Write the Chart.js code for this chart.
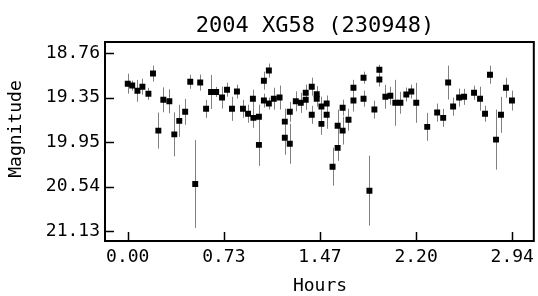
<!DOCTYPE html>
<html>
<head>
<meta charset="utf-8">
<script src="https://cdn.jsdelivr.net/npm/chart.js@4/dist/chart.umd.min.js"></script>
<style>
  body { margin: 0; background: #fff; }
  canvas { display: block; }
</style>
</head>
<body>
<canvas id="lc" width="538" height="296"></canvas>
<script>
// light curve, values
const hours = [0.00, 0.034, 0.074, 0.112, 0.158, 0.193, 0.234, 0.272, 0.318, 0.356,
    0.394, 0.439, 0.478, 0.516, 0.554, 0.599, 0.637, 0.676, 0.721, 0.759,
    0.797, 0.835, 0.881, 0.920, 0.957, 0.961, 1.003, 1.003, 1.041, 1.041,
    1.079, 1.079, 1.117, 1.161, 1.201, 1.201, 1.239, 1.239, 1.285, 1.323,
    1.361, 1.361, 1.407, 1.407, 1.445, 1.445, 1.481, 1.481, 1.521, 1.521,
    1.566, 1.605, 1.605, 1.643, 1.643, 1.688, 1.726, 1.726, 1.803, 1.803,
    1.848, 1.886, 1.924, 1.924, 1.970, 2.008, 2.046, 2.085, 2.130, 2.168,
    2.206, 2.290, 2.366, 2.412, 2.450, 2.488, 2.534, 2.572, 2.648, 2.694,
    2.732, 2.770, 2.816, 2.854, 2.892, 2.938];
const mags = [19.165, 19.19, 19.26, 19.205, 19.30, 19.03, 19.79, 19.38, 19.40, 19.84,
    19.66, 19.54, 19.14, 20.50, 19.15, 19.50, 19.275, 19.275, 19.35, 19.245,
    19.50, 19.27, 19.50, 19.565, 19.365, 19.62, 19.605, 19.98, 19.125, 19.39,
    18.99, 19.43, 19.365, 19.35, 19.67, 19.885, 19.54, 19.965, 19.40, 19.42,
    19.285, 19.38, 19.205, 19.58, 19.305, 19.365, 19.47, 19.70, 19.43, 19.58,
    20.27, 19.725, 20.02, 19.485, 19.79, 19.645, 19.22, 19.39, 19.085, 19.365,
    20.59, 19.51, 18.98, 19.11, 19.34, 19.325, 19.42, 19.42, 19.31, 19.27,
    19.42, 19.74, 19.55, 19.62, 19.15, 19.47, 19.35, 19.34, 19.285, 19.365,
    19.565, 19.045, 19.91, 19.58, 19.22, 19.39];
const errs = [0.133, 0.067, 0.146, 0.107, 0.08, 0.107, 0.24, 0.166, 0.16, 0.293,
    0.213, 0.173, 0.093, 0.586, 0.107, 0.12, 0.226, 0.067, 0.146, 0.093,
    0.16, 0.093, 0.12, 0.12, 0.12, 0.133, 0.16, 0.28, 0.12, 0.093,
    0.093, 0.08, 0.146, 0.16, 0.173, 0.226, 0.133, 0.266, 0.133, 0.133,
    0.107, 0.133, 0.12, 0.12, 0.107, 0.107, 0.133, 0.146, 0.107, 0.186,
    0.253, 0.213, 0.173, 0.107, 0.186, 0.146, 0.107, 0.146, 0.08, 0.107,
    0.466, 0.12, 0.067, 0.093, 0.16, 0.12, 0.306, 0.146, 0.093, 0.093,
    0.266, 0.186, 0.12, 0.12, 0.226, 0.12, 0.12, 0.107, 0.093, 0.16,
    0.107, 0.12, 0.4, 0.24, 0.133, 0.133];

const xTicks = [0, 0.735, 1.47, 2.205, 2.94];
const xTickLabels = ['0.00', '0.73', '1.47', '2.20', '2.94'];
const yTicks = [18.76, 19.3525, 19.945, 20.5375, 21.13];
const yTickLabels = ['18.76', '19.35', '19.95', '20.54', '21.13'];

const FONT = '"DejaVu Sans Mono", monospace';

// error bars under the squares
const errorBars = {
    id: 'errorBars',
    beforeDatasetsDraw(chart) {
        const ctx = chart.ctx;
        const xs = chart.scales.x, ys = chart.scales.y;
        ctx.save();
        ctx.strokeStyle = '#808080';
        ctx.lineWidth = 1;
        ctx.beginPath();
        hours.forEach((h, i) => {
            const px = Math.round(xs.getPixelForValue(h)) + 0.5;
            ctx.moveTo(px, ys.getPixelForValue(mags[i] - errs[i]));
            ctx.lineTo(px, ys.getPixelForValue(mags[i] + errs[i]));
        });
        ctx.stroke();
        ctx.restore();
    }
};

// box, inward ticks and the titles
const frame = {
    id: 'frame',
    afterDraw(chart) {
        const ctx = chart.ctx;
        const a = chart.chartArea;
        const xs = chart.scales.x, ys = chart.scales.y;
        ctx.save();
        ctx.strokeStyle = '#000';
        ctx.lineWidth = 1.5;
        ctx.beginPath();
        yTicks.forEach(v => {
            const py = Math.round(ys.getPixelForValue(v)) + 0.5;
            ctx.moveTo(a.left, py);
            ctx.lineTo(a.left + 9, py);
        });
        xTicks.forEach(v => {
            const px = Math.round(xs.getPixelForValue(v)) + 0.5;
            ctx.moveTo(px, a.bottom);
            ctx.lineTo(px, a.bottom - 9);
        });
        ctx.stroke();
        ctx.lineWidth = 2;
        ctx.strokeRect(a.left, a.top, a.right - a.left, a.bottom - a.top);

        ctx.fillStyle = '#000';
        ctx.textAlign = 'center';
        ctx.textBaseline = 'middle';
        ctx.font = '22px ' + FONT;
        ctx.fillText('2004 XG58 (230948)', 315, 26);
        ctx.font = '18px ' + FONT;
        ctx.fillText('Hours', 320, 286);
        ctx.translate(16, 129);
        ctx.rotate(-Math.PI / 2);
        ctx.fillText('Magnitude', 0, 0);
        ctx.restore();
    }
};

new Chart(document.getElementById('lc'), {
    type: 'scatter',
    data: {
        datasets: [{
            data: hours.map((h, i) => ({ x: h, y: mags[i] })),
            pointStyle: 'rect',
            pointRadius: 4.2,
            pointBorderWidth: 0,
            backgroundColor: '#000',
            borderColor: '#000',
        }],
    },
    options: {
        responsive: false,
        animation: false,
        devicePixelRatio: 1,
        layout: { padding: { top: 42, left: 0, right: 2, bottom: 0 } },
        plugins: {
            legend: { display: false },
            tooltip: { enabled: false },
        },
        scales: {
            x: {
                type: 'linear',
                min: -0.174,
                max: 3.105,
                grid: { display: false, drawTicks: false },
                border: { display: false },
                afterBuildTicks: s => { s.ticks = xTicks.map(v => ({ value: v })); },
                afterFit: s => {
                    s.height = 55;
                    s.paddingLeft = 0;
                    s.paddingRight = 0;
                },
                ticks: {
                    padding: 6,
                    color: '#000',
                    font: { family: FONT, size: 18 },
                    maxRotation: 0,
                    callback: (v, i) => xTickLabels[i],
                },
            },
            y: {
                type: 'linear',
                reverse: true,
                min: 18.61,
                max: 21.26,
                grid: { display: false, drawTicks: false },
                border: { display: false },
                afterBuildTicks: s => { s.ticks = yTicks.map(v => ({ value: v })); },
                afterFit: s => {
                    s.width = 105;
                    s.paddingTop = 0;
                    s.paddingBottom = 0;
                },
                ticks: {
                    padding: 5,
                    color: '#000',
                    font: { family: FONT, size: 18 },
                    callback: (v, i) => yTickLabels[i],
                },
            },
        },
    },
    plugins: [errorBars, frame],
});
</script>
</body>
</html>
